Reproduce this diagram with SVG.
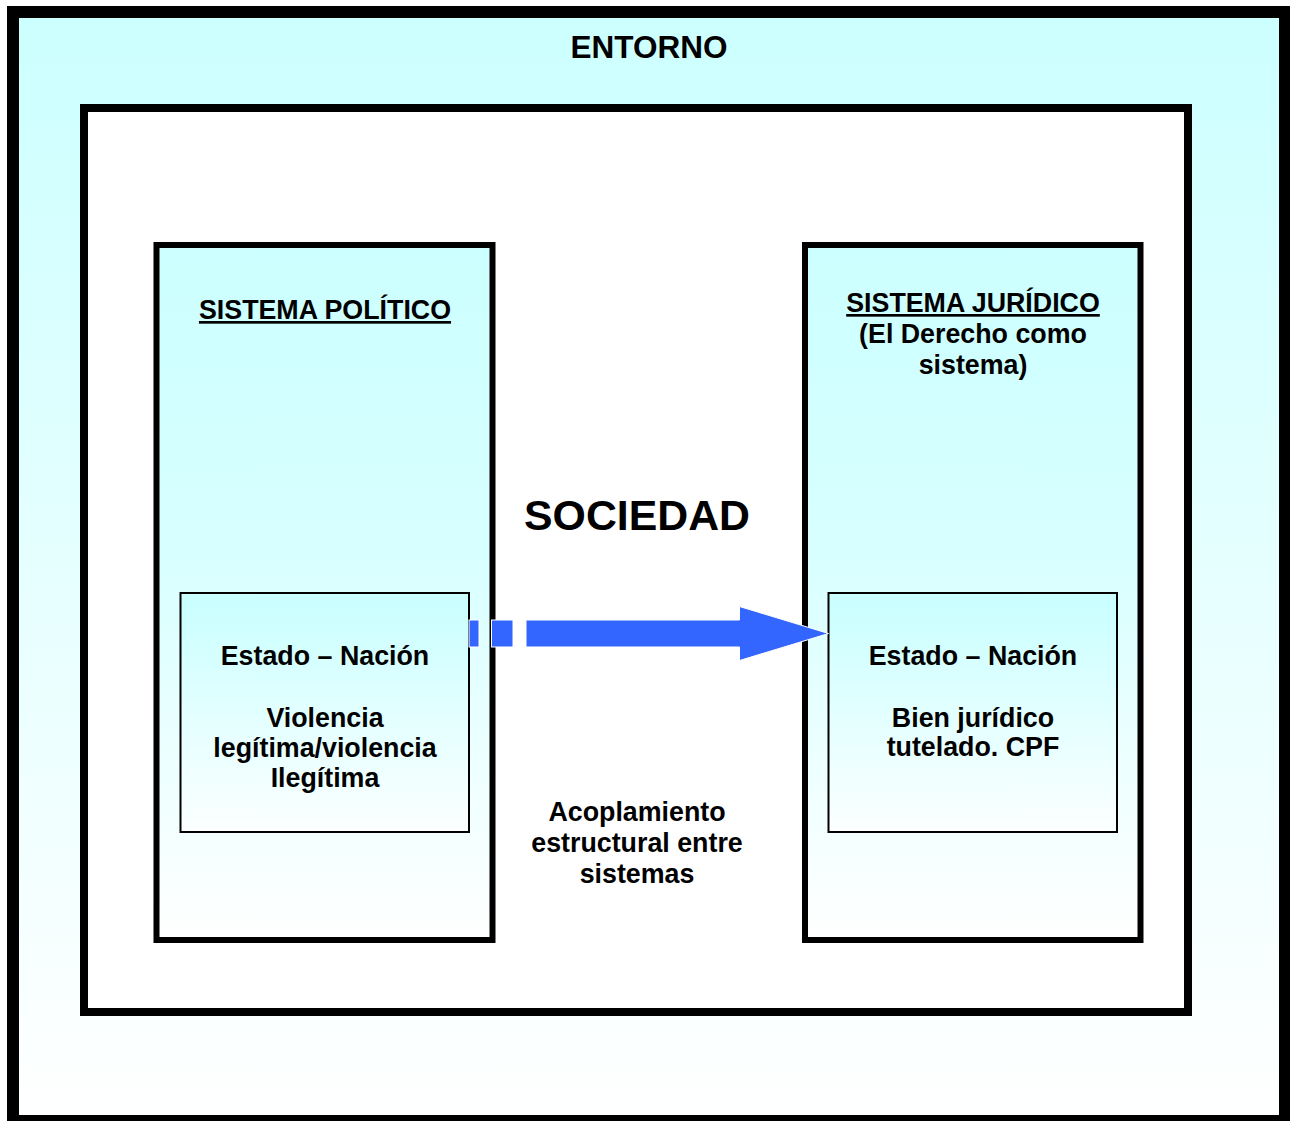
<svg xmlns="http://www.w3.org/2000/svg" width="1290" height="1121" viewBox="0 0 1290 1121">
  <style>
    text { font-family: "Liberation Sans", Arial, sans-serif; font-weight: bold; fill: #000000; text-anchor: middle; }
    .title { font-size: 31.5px; }
    .big { font-size: 42.8px; }
    .label { font-size: 26.8px; }
    .u { text-decoration: underline; }
    .frame { stroke: #000000; }
    .arrow { fill: #3366FF; stroke: #FFFFFF; stroke-width: 1; }
  </style>
  <defs>
    <linearGradient id="gradEntorno" x1="0" y1="0" x2="0" y2="1">
      <stop offset="0" stop-color="#CCFFFF"/>
      <stop offset="1" stop-color="#FFFFFF"/>
    </linearGradient>
    <linearGradient id="gradSistema" x1="0" y1="0" x2="0" y2="1">
      <stop offset="0" stop-color="#CCFFFF"/>
      <stop offset="0.45" stop-color="#D8FFFF"/>
      <stop offset="1" stop-color="#FFFFFF"/>
    </linearGradient>
    <linearGradient id="gradEstado" x1="0" y1="0" x2="0" y2="1">
      <stop offset="0" stop-color="#C8FFFF"/>
      <stop offset="1" stop-color="#FCFFFF"/>
    </linearGradient>
  </defs>

  <rect x="0" y="0" width="1290" height="1121" fill="#FFFFFF"/>

  <!-- Entorno: outer environment frame -->
  <g id="entorno">
    <rect class="frame" x="13" y="12" width="1272" height="1109" fill="url(#gradEntorno)" stroke-width="12"/>
    <text class="title" x="649" y="58">ENTORNO</text>
  </g>

  <!-- Sociedad: inner society frame -->
  <g id="sociedad">
    <rect class="frame" x="84" y="108" width="1104" height="904" fill="#FFFFFF" stroke-width="8"/>
    <text class="big" x="637" y="530">SOCIEDAD</text>
  </g>

  <!-- Political system -->
  <g id="sistema-politico">
    <rect class="frame" x="156.5" y="245" width="336" height="695" fill="url(#gradSistema)" stroke-width="6"/>
    <text class="label u" x="325" y="319">SISTEMA POLÍTICO</text>
  </g>

  <!-- Legal system -->
  <g id="sistema-juridico">
    <rect class="frame" x="805" y="245" width="335.5" height="695" fill="url(#gradSistema)" stroke-width="6"/>
    <text class="label" x="973" y="312"><tspan class="u">SISTEMA JURÍDICO</tspan></text>
    <text class="label" x="973" y="343">(El Derecho como</text>
    <text class="label" x="973" y="374">sistema)</text>
  </g>

  <!-- Nation-state inside the political system -->
  <g id="estado-nacion-politico">
    <rect class="frame" x="180.5" y="593" width="288.5" height="239" fill="url(#gradEstado)" stroke-width="2"/>
    <text class="label" x="325" y="665">Estado – Nación</text>
    <text class="label" x="325" y="727">Violencia</text>
    <text class="label" x="325" y="757">legítima/violencia</text>
    <text class="label" x="325" y="787">Ilegítima</text>
  </g>

  <!-- Nation-state inside the legal system -->
  <g id="estado-nacion-juridico">
    <rect class="frame" x="828.5" y="593" width="288.5" height="239" fill="url(#gradEstado)" stroke-width="2"/>
    <text class="label" x="973" y="665">Estado – Nación</text>
    <text class="label" x="973" y="727">Bien jurídico</text>
    <text class="label" x="973" y="756">tutelado. CPF</text>
  </g>

  <!-- Coupling label -->
  <g id="acoplamiento">
    <text class="label" x="637" y="821">Acoplamiento</text>
    <text class="label" x="637" y="852">estructural entre</text>
    <text class="label" x="637" y="883">sistemas</text>
  </g>

  <!-- Connectors -->
  <g id="connectors">
    <g id="acoplamiento-arrow">
      <rect class="arrow" x="469" y="620" width="10" height="27"/>
      <rect class="arrow" x="491.5" y="620" width="21.5" height="27"/>
      <path class="arrow" d="M526,620 L739.5,620 L739.5,606.5 L828.5,633.5 L739.5,660.5 L739.5,647 L526,647 Z"/>
    </g>
  </g>
</svg>
